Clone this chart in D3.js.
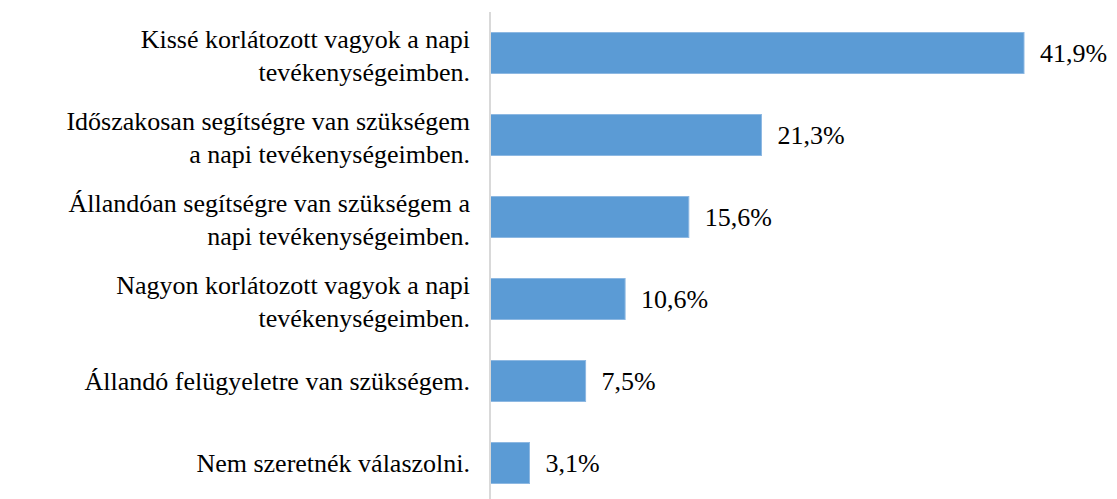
<!DOCTYPE html>
<html><head><meta charset="utf-8">
<script src="https://cdn.jsdelivr.net/npm/d3@7"></script>
<style>body{margin:0;background:#fff}</style>
</head><body>
<svg id="c" width="1117" height="499"></svg>
<script>
const categories = [
  ["Kissé korlátozott vagyok a napi", "tevékenységeimben."],
  ["Időszakosan segítségre van szükségem", "a napi tevékenységeimben."],
  ["Állandóan segítségre van szükségem a", "napi tevékenységeimben."],
  ["Nagyon korlátozott vagyok a napi", "tevékenységeimben."],
  ["Állandó felügyeletre van szükségem."],
  ["Nem szeretnék válaszolni."]
];
const values = [41.9, 21.3, 15.6, 10.6, 7.5, 3.1];
const valueLabels = ["41,9%", "21,3%", "15,6%", "10,6%", "7,5%", "3,1%"];

const svg = d3.select("#c");
const ids = categories.map((d, i) => i);
const y = d3.scaleBand().domain(ids).range([12, 504]).paddingInner(0.5).paddingOuter(0.25);
const x = d3.scaleLinear().domain([0, 45]).range([490, 1063.5]);
const lh = 33;

svg.selectAll("rect.bar").data(values).join("rect")
  .attr("class", "bar")
  .attr("x", x(0))
  .attr("y", (d, i) => y(i))
  .attr("width", d => x(d) - x(0))
  .attr("height", y.bandwidth())
  .attr("fill", "#5B9BD5")
  .attr("stroke", "#8DB8E2").attr("stroke-width", 1);

svg.append("line")
  .attr("x1", x(0)).attr("x2", x(0))
  .attr("y1", 12).attr("y2", 499)
  .attr("stroke", "#D9D9D9").attr("stroke-width", 2);

categories.forEach((lines, i) => {
  const cy = y(i) + y.bandwidth() / 2;
  lines.forEach((ln, j) => {
    svg.append("text")
      .attr("x", 470)
      .attr("y", cy + 9 + (lines.length > 1 ? 2 : 0) - (lines.length - 1) * lh / 2 + j * lh)
      .attr("text-anchor", "end")
      .style("font-family", "Liberation Serif").style("font-size", "26px")
      .text(ln);
  });
});

svg.selectAll("text.val").data(values).join("text")
  .attr("class", "val")
  .attr("x", d => x(d) + 16)
  .attr("y", (d, i) => y(i) + y.bandwidth() / 2 + 9)
  .style("font-family", "Liberation Serif").style("font-size", "26px")
  .text((d, i) => valueLabels[i]);
</script>
</body></html>
